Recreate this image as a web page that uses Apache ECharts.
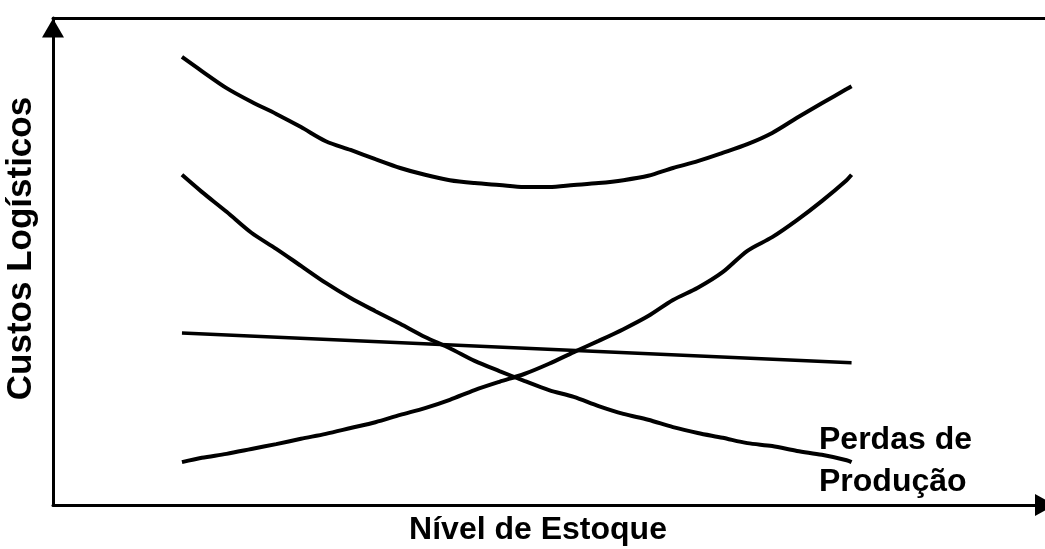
<!DOCTYPE html>
<html>
<head>
<meta charset="utf-8">
<script src="https://cdn.jsdelivr.net/npm/echarts@6/dist/echarts.min.js"></script>
<style>
  html, body { margin: 0; padding: 0; background: #fff; }
  #main { width: 1045px; height: 549px; }
</style>
</head>
<body>
<div id="main"></div>
<script>
// nível de estoque (eixo x, escala 0-100)
var niveis = [13, 15, 17.5, 20, 22.5, 25, 27.5, 30, 32.5, 35, 37.5, 40, 42.5, 45, 47.5,
  50, 52.5, 55, 57.5, 60, 62.5, 65, 67.5, 70, 72.5, 75, 77.5, 80, 80.5];

// curva total (em U)
var custoTotal = [92.0, 89.1, 85.6, 82.8, 80.3, 77.6, 74.7, 72.9, 71.0, 69.2, 67.8, 66.7, 66.1, 65.7, 65.3,
  65.3, 65.7, 66.1, 66.7, 67.6, 69.2, 70.6, 72.3, 74.1, 76.4, 79.5, 82.5, 85.4, 86.0];

// perdas de produção (decrescente)
var perdasProducao = [67.8, 64.3, 60.2, 55.9, 52.6, 49.1, 45.6, 42.5, 39.8, 37.2, 34.5, 32.2, 29.6, 27.5, 25.5,
  23.6, 22.2, 20.3, 18.7, 17.5, 16.0, 14.8, 13.8, 12.7, 12.1, 11.1, 10.3, 9.2, 8.8];

// custo de manter estoque (crescente)
var custoEstoque = [8.8, 9.7, 10.5, 11.5, 12.5, 13.6, 14.6, 15.8, 17.0, 18.5, 19.9, 21.6, 23.6, 25.3, 26.9,
  29.0, 31.4, 33.7, 36.1, 38.8, 42.1, 44.6, 47.8, 52.2, 55.0, 58.5, 62.4, 66.7, 67.8];

// reta quase horizontal
var retaX = [13, 80.5];
var retaY = [35.3, 29.2];

function pares(xs, ys) {
  return xs.map(function (x, i) { return [x, ys[i]]; });
}

var myChart = echarts.init(document.getElementById('main'));

var fonte = 'Liberation Sans, Arial, sans-serif';
var linha = { color: '#000', width: 4 };

var option = {
  backgroundColor: '#fff',
  animation: false,
  title: {
    text: 'Perdas de\nProdução',
    left: 814,
    top: 414,
    textStyle: {
      color: '#000',
      fontFamily: fonte,
      fontWeight: 'bold',
      fontSize: 32,
      lineHeight: 42
    }
  },
  grid: { left: 53, right: 0, top: 18, bottom: 44, outerBoundsMode: 'none', containLabel: false },
  xAxis: [{
    type: 'value',
    min: 0,
    max: 100,
    position: 'bottom',
    name: 'Nível de Estoque',
    nameLocation: 'middle',
    nameGap: 9,
    nameTextStyle: { color: '#000', fontFamily: fonte, fontWeight: 'bold', fontSize: 32, padding: [0, 22, 0, 0] },
    axisLine: { show: true, symbol: ['none', 'triangle'], symbolSize: [22, 20], lineStyle: { color: '#000', width: 3 } },
    axisTick: { show: false },
    axisLabel: { show: false },
    splitLine: { show: false }
  }, {
    type: 'value',
    min: 0,
    max: 100,
    position: 'top',
    axisLine: { show: true, lineStyle: { color: '#000', width: 3 } },
    axisTick: { show: false },
    axisLabel: { show: false },
    splitLine: { show: false }
  }],
  yAxis: {
    type: 'value',
    min: 0,
    max: 100,
    name: 'Custos Logísticos',
    nameLocation: 'middle',
    nameRotate: 90,
    nameGap: 14,
    nameTextStyle: { color: '#000', fontFamily: fonte, fontWeight: 'bold', fontSize: 35, padding: [0, 0, 0, 26] },
    axisLine: { show: true, symbol: ['none', 'triangle'], symbolSize: [22, 19], symbolOffset: [0, -10], lineStyle: { color: '#000', width: 3 } },
    axisTick: { show: false },
    axisLabel: { show: false },
    splitLine: { show: false }
  },
  series: [
    { type: 'line', data: pares(niveis, custoTotal), showSymbol: false, smooth: 0.3, lineStyle: linha },
    { type: 'line', data: pares(niveis, perdasProducao), showSymbol: false, smooth: 0.3, lineStyle: linha },
    { type: 'line', data: pares(niveis, custoEstoque), showSymbol: false, smooth: 0.3, lineStyle: linha },
    { type: 'line', data: pares(retaX, retaY), showSymbol: false, lineStyle: { color: '#000', width: 3.5 } }
  ]
};

myChart.setOption(option);
window.onresize = myChart.resize;
</script>
</body>
</html>
